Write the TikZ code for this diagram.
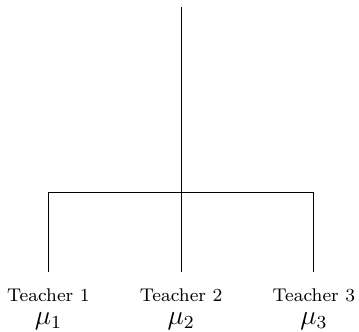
\documentclass[tikz,border=0pt]{standalone}
\usepackage{tikz}

\begin{document}
\begin{tikzpicture}[font=\footnotesize,every node/.style={inner sep=0pt}]
\useasboundingbox (0,0) rectangle (5.49,-5.07);
\coordinate (root) at (2.77,-0.11);
\coordinate (fork) at (2.77,-2.95);
\foreach \i/\x in {1/0.74,2/2.77,3/4.80}{
  \coordinate (leaf\i) at (\x,-4.16);
  \node (t\i) at (\x,-4.52) {Teacher \i};
  \node[font=\large] (m\i) at (\x,-4.91) {$\mu_\i$};
}
\draw (root) -- (fork);
\draw (leaf1) |- (fork) -| (leaf3);
\draw (fork) -- (leaf2);
\end{tikzpicture}
\end{document}
